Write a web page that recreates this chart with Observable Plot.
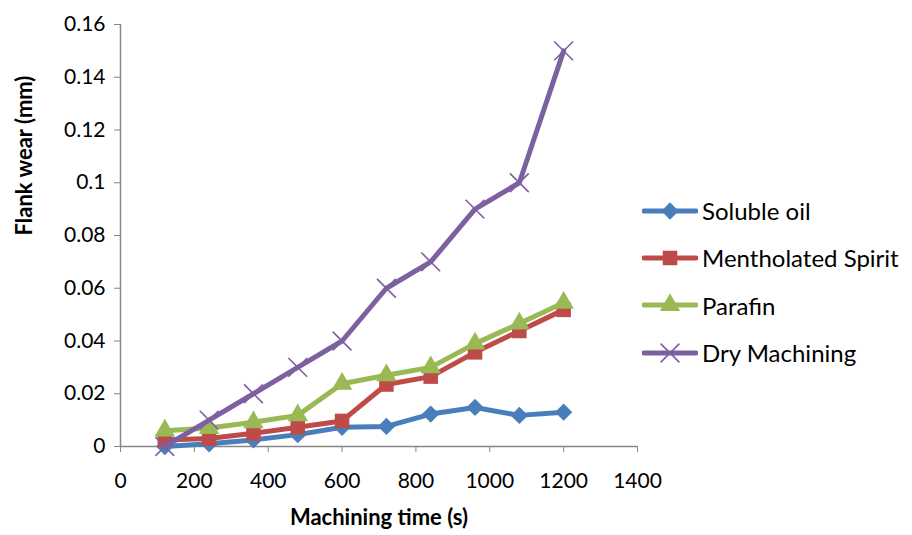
<!DOCTYPE html>
<html>
<head>
<meta charset="utf-8">
<script src="https://cdn.jsdelivr.net/npm/d3@7"></script>
<script src="https://cdn.jsdelivr.net/npm/@observablehq/plot@0.6"></script>
<style>
  body { margin: 0; background: #fff; }
  #wrap { position: relative; width: 912px; height: 535px; font-family: Lato, "Open Sans", sans-serif; }
  #legend { position: absolute; left: 642px; top: 187px; }
  .item { display: flex; align-items: center; height: 47.3px; font-size: 24px; color: #000; }
  .item svg { margin-right: 4px; }
</style>
</head>
<body>
<div id="wrap"></div>
<script>
const times = [120, 240, 360, 480, 600, 720, 840, 960, 1080, 1200];
const seriesNames = ["Soluble oil", "Mentholated Spirit", "Parafin", "Dry Machining"];
const solubleOil = [0, 0.001, 0.0025, 0.0045, 0.0073, 0.0076, 0.0123, 0.0148, 0.0118, 0.013];
const mentholatedSpirit = [0.0025, 0.003, 0.005, 0.0073, 0.0097, 0.0235, 0.0265, 0.0357, 0.0438, 0.0518];
const parafin = [0.006, 0.007, 0.0092, 0.0118, 0.0238, 0.027, 0.03, 0.039, 0.0466, 0.0545];
const dryMachining = [0, 0.01, 0.02, 0.03, 0.04, 0.06, 0.07, 0.09, 0.1, 0.15];
const xTicks = [0, 200, 400, 600, 800, 1000, 1200, 1400];
const yTicks = [0, 0.02, 0.04, 0.06, 0.08, 0.1, 0.12, 0.14, 0.16];

const colors = ["#4A7EBB", "#BE4B48", "#98B954", "#7D60A0"];
const symbols = ["diamond2", "square", "triangle", "times"];
const radii = [7.8, 8.2, 7.6, 8.6];
const allValues = [solubleOil, mentholatedSpirit, parafin, dryMachining];

const seriesData = allValues.map((vals, i) =>
  times.map((t, j) => ({ t, v: vals[j], s: seriesNames[i] })));

const marks = [];
seriesData.forEach((data, i) => {
  marks.push(Plot.line(data, { x: "t", y: "v", stroke: colors[i], strokeWidth: 5 }));
  if (symbols[i] === "times") {
    marks.push(Plot.dot(data, { x: "t", y: "v", symbol: "times", r: radii[i], stroke: colors[i], strokeWidth: 1.6 }));
  } else {
    marks.push(Plot.dot(data, { x: "t", y: "v", symbol: symbols[i], r: radii[i], fill: colors[i], stroke: "none" }));
  }
});

const chart = Plot.plot({
  width: 912,
  height: 535,
  marginLeft: 120,
  marginRight: 275,
  marginTop: 24,
  marginBottom: 89,
  style: { fontFamily: "Lato, 'Open Sans', sans-serif", fontSize: "21px", color: "#000", background: "#fff" },
  x: { domain: [0, 1400], label: null },
  y: { domain: [0, 0.16], label: null },
  marks: [
    Plot.axisX({ ticks: xTicks, tickSize: 6, tickPadding: 21, stroke: "#868686", fill: "#000", fontSize: 21, tickFormat: d3.format("d"), label: null }),
    Plot.axisY({ ticks: yTicks, tickSize: 6, tickPadding: 9, stroke: "#868686", fill: "#000", fontSize: 21, tickFormat: d3.format("~g"), label: null }),
    Plot.ruleY([0], { stroke: "#868686", strokeWidth: 1.5 }),
    Plot.ruleX([0], { stroke: "#868686", strokeWidth: 1.5 }),
    ...marks,
    Plot.text(["Machining time (s)"], { frameAnchor: "bottom", dy: 78, fontWeight: "bold", fontSize: 22, fill: "#000" }),
    Plot.text(["Flank wear (mm)"], { frameAnchor: "left", dx: -96, rotate: -90, fontWeight: "bold", fontSize: 22, fill: "#000" })
  ]
});

const wrap = document.getElementById("wrap");
wrap.appendChild(chart);

const legend = document.createElement("div");
legend.id = "legend";
seriesNames.forEach((name, i) => {
  const item = document.createElement("div");
  item.className = "item";
  const ns = "http://www.w3.org/2000/svg";
  const svg = document.createElementNS(ns, "svg");
  svg.setAttribute("width", 56);
  svg.setAttribute("height", 24);
  const line = document.createElementNS(ns, "line");
  line.setAttribute("x1", 2); line.setAttribute("x2", 54);
  line.setAttribute("y1", 12); line.setAttribute("y2", 12);
  line.setAttribute("stroke", colors[i]); line.setAttribute("stroke-width", 5);
  line.setAttribute("stroke-linecap", "round");
  svg.appendChild(line);
  const symMap = { diamond2: d3.symbolDiamond2, square: d3.symbolSquare, triangle: d3.symbolTriangle, times: d3.symbolTimes };
  const path = document.createElementNS(ns, "path");
  path.setAttribute("d", d3.symbol(symMap[symbols[i]], Math.PI * radii[i] * radii[i])());
  path.setAttribute("transform", "translate(28,12)");
  if (symbols[i] === "times") {
    path.setAttribute("fill", "none"); path.setAttribute("stroke", colors[i]); path.setAttribute("stroke-width", 1.6);
  } else {
    path.setAttribute("fill", colors[i]);
  }
  svg.appendChild(path);
  item.appendChild(svg);
  const label = document.createElement("span");
  label.textContent = name;
  item.appendChild(label);
  legend.appendChild(item);
});
wrap.appendChild(legend);
</script>
</body>
</html>
